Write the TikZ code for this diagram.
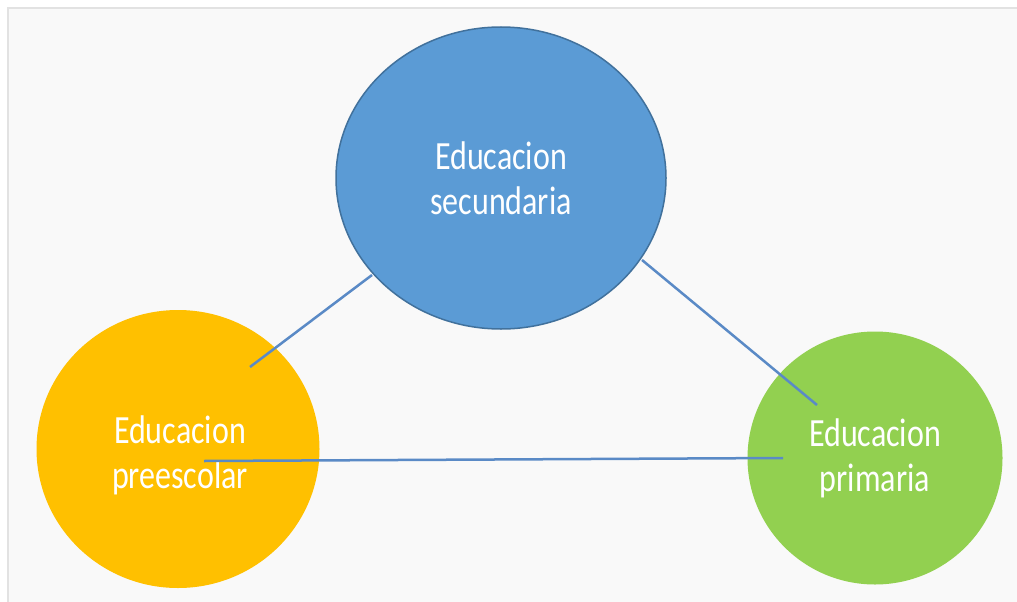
\documentclass[tikz,border=0pt]{standalone}
\usepackage{fontspec}
\setmainfont{Carlito}
\usetikzlibrary{shapes.geometric,calc}
\definecolor{panelbg}{HTML}{F9F9F9}
\definecolor{panelline}{HTML}{E2E2E2}
\definecolor{secfill}{HTML}{5B9BD5}
\definecolor{secline}{HTML}{41719C}
\definecolor{prefill}{HTML}{FFC000}
\definecolor{prifill}{HTML}{92D050}
\definecolor{linkcol}{HTML}{5A8AC6}
\newcommand{\sqz}[1]{\scalebox{0.8}[1]{#1}}
\tikzset{
  bubble/.style={ellipse, inner sep=0pt, text=white, align=center,
    font=\fontsize{40}{45}\selectfont},
  link/.style={draw=linkcol, line width=2.5pt}
}
\begin{document}
\begin{tikzpicture}[x=1pt,y=-1pt]
\fill[white] (0,0) rectangle (1017,602);
\useasboundingbox (0,0) rectangle (1017,602);
\fill[panelbg] (8,8) rectangle (1017,602);
\draw[panelline, line width=1.5pt] (8,602) -- (8,8) -- (1017,8);
\node[bubble, fill=secfill, draw=secline, line width=1.5pt,
  minimum width=330pt, minimum height=302pt] (sec) at (501,178)
  {\sqz{Educacion}\\\sqz{secundaria}};
\node[bubble, fill=prefill, minimum width=283pt, minimum height=278pt]
  (pre) at (178,449) {};
\node[text=white, align=center, font=\fontsize{40}{45}\selectfont]
  (pretxt) at (180,455) {\sqz{Educacion}\\\sqz{preescolar}};
\node[bubble, fill=prifill, minimum width=255pt, minimum height=253pt]
  (pri) at (875,458) {\sqz{Educacion}\\\sqz{primaria}};
\draw[link] ($(pre.center)+(72,-82)$) -- ($(sec.center)+(-129,97)$);
\draw[link] ($(sec.center)+(141,82)$) -- ($(pri.center)+(-58,-53)$);
\draw[link] ($(pre.center)+(26,12)$) -- ($(pri.center)+(-92,0)$);
\end{tikzpicture}
\end{document}
